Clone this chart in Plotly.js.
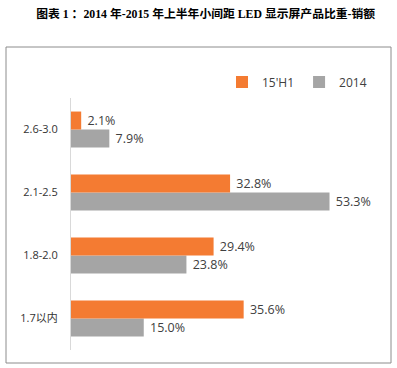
<!DOCTYPE html>
<html><head><meta charset="utf-8">
<script src="https://cdn.plot.ly/plotly-3.0.1.min.js"></script>
<style>html,body{margin:0;padding:0;background:#fff}#chart{width:397px;height:368px}</style>
</head><body><div id="chart"></div>
<script>
const categories = ["1.7以内", "1.8-2.0", "2.1-2.5", "2.6-3.0"];
const series2014 = [15.0, 23.8, 53.3, 7.9];
const series15H1 = [35.6, 29.4, 32.8, 2.1];
const seriesNames = ["2014", "15'H1"];
const titleText = "图表 1 ：2014 年-2015 年上半年小间距 LED 显示屏产品比重-销额";

const W = 397, H = 368;
const m = {l: 71, r: 35, t: 98, b: 18};
const pw = W - m.l - m.r, ph = H - m.t - m.b;
const px = x => (x - m.l) / pw;
const py = y => 1 - (y - m.t) / ph;

const fmt = v => " " + v.toFixed(1) + "%";
const traces = [
  {type: "bar", orientation: "h", name: seriesNames[0], y: categories, x: series2014,
   marker: {color: "#A5A5A5"}, text: series2014.map(fmt), textposition: "outside",
   textfont: {color: "#404040", size: 12.5}, cliponaxis: false},
  {type: "bar", orientation: "h", name: seriesNames[1], y: categories, x: series15H1,
   marker: {color: "#F47B32"}, text: series15H1.map(fmt), textposition: "outside",
   textfont: {color: "#404040", size: 12.5}, cliponaxis: false}
];

const layout = {
  width: W, height: H,
  margin: m,
  paper_bgcolor: "#fff", plot_bgcolor: "#fff",
  font: {family: "'Open Sans', 'Noto Sans CJK SC', sans-serif", color: "#404040", size: 11},
  title: {text: "<b>" + titleText + "</b>", x: 0.518, xanchor: "center", y: 1 - 14/H, yanchor: "middle",
          font: {family: "'Liberation Serif', 'Noto Sans CJK SC', serif", size: 11.8, color: "#000"}},
  barmode: "group", bargap: 0.43, bargroupgap: 0,
  xaxis: {range: [0, 60], showticklabels: false, showgrid: false, zeroline: false, showline: false, fixedrange: true},
  yaxis: {showline: true, linecolor: "#D9D9D9", linewidth: 1, ticks: "", ticklen: 0, ticklabelstandoff: 10,
          tickfont: {size: 11, color: "#333"}, showgrid: false},
  showlegend: true,
  legend: {orientation: "h", traceorder: "reversed", x: px(222), xanchor: "left", y: py(82), yanchor: "middle",
           font: {size: 12, color: "#404040"}, itemwidth: 30, bgcolor: "rgba(0,0,0,0)"},
  shapes: [{type: "rect", xref: "paper", yref: "paper", x0: px(6), x1: px(391), y0: py(47), y1: py(363),
            line: {color: "#8C8C8C", width: 1}, fillcolor: "rgba(0,0,0,0)", layer: "below"}]
};
Plotly.newPlot("chart", traces, layout, {displayModeBar: false, staticPlot: true});
</script></body></html>
